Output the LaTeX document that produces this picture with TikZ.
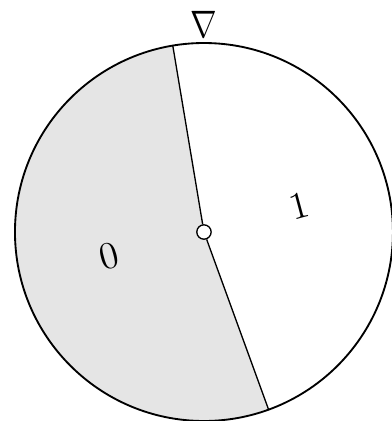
\documentclass[tikz,border=0pt]{standalone}
\usetikzlibrary{positioning}
\begin{document}
\begin{tikzpicture}[
  wheel/.style={draw, line width=0.7pt},
  spoke/.style={draw, line width=0.5pt},
  digit/.style={font=\fontsize{15.7}{18}\selectfont, rotate=15},
  hub/.style={draw, circle, fill=white, inner sep=0pt, minimum size=0.19cm, line width=0.5pt},
  pointer/.style={font=\fontsize{11.5}{14}\selectfont, inner sep=0pt, yscale=1.2}]
  \useasboundingbox (-2.698,-2.5) rectangle (2.487,3.069);
  \coordinate (c) at (0,0);
  \coordinate (rimtop) at (99.5:2.5);
  \coordinate (rimbot) at (290:2.5);
  % shaded sector for outcome 0
  \fill[black!10] (c) -- (rimtop) arc[start angle=99.5, end angle=290, radius=2.5] -- cycle;
  \draw[wheel] (c) circle[radius=2.5];
  \node[hub] (h) at (c) {};
  \draw[spoke] (h) -- (rimtop);
  \draw[spoke] (h) -- (rimbot);
  \node[digit] (one) at (15:1.3) {$1$};
  \node[digit] (zero) at (194.5:1.3) {$0$};
  \node[pointer] (p) at (0,2.745) {$\nabla$};
\end{tikzpicture}
\end{document}
